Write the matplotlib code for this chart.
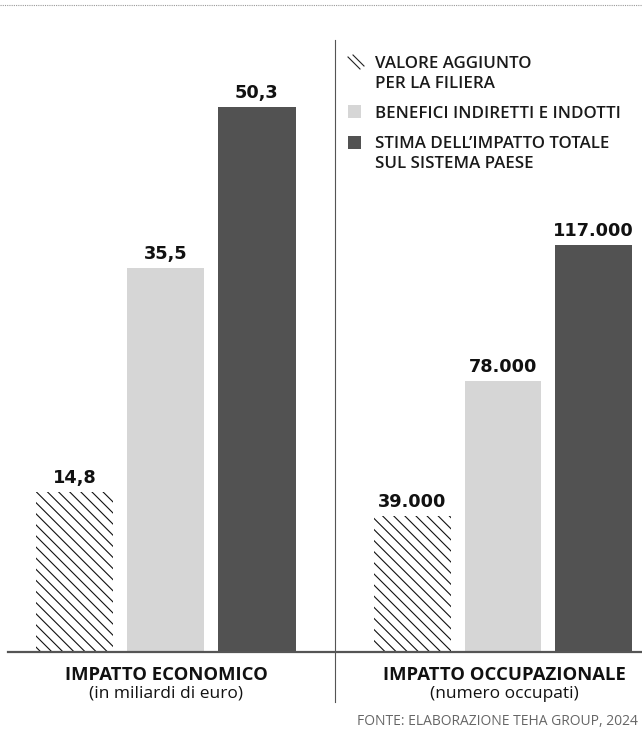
import matplotlib
matplotlib.use("Agg")
import matplotlib.pyplot as plt
from matplotlib.patches import Rectangle
from matplotlib.lines import Line2D

# ---- data ----
series = [["VALORE AGGIUNTO", "PER LA FILIERA"],
          ["BENEFICI INDIRETTI E INDOTTI"],
          ["STIMA DELL\u2019IMPATTO TOTALE", "SUL SISTEMA PAESE"]]
econ_values = [14.8, 35.5, 50.3]
econ_labels = ["14,8", "35,5", "50,3"]
occ_values = [39000, 78000, 117000]
occ_labels = ["39.000", "78.000", "117.000"]
panel_titles = ["IMPATTO ECONOMICO", "IMPATTO OCCUPAZIONALE"]
panel_subtitles = ["(in miliardi di euro)", "(numero occupati)"]
source = "FONTE: ELABORAZIONE TEHA GROUP, 2024"

FONT = "Open Sans"
plt.rcParams['font.family'] = [FONT, 'DejaVu Sans']
plt.rcParams['hatch.linewidth'] = 0.8

W, H = 642, 729
fig = plt.figure(figsize=(W / 100, H / 100), dpi=100)

def fx(x):
    return x / W

def fy(y):
    return 1 - y / H

LIGHT = "#d6d6d6"
DARK = "#525252"
styles = [
    dict(facecolor="white", edgecolor="#111111", hatch="\\\\\\", linewidth=0),
    dict(facecolor=LIGHT, edgecolor=LIGHT, linewidth=0),
    dict(facecolor=DARK, edgecolor=DARK, linewidth=0),
]

base_y = 652
top_y = 40

def make_panel(x0, x1, values, labels, xlim, ymax):
    ax = fig.add_axes([fx(x0), fy(base_y), fx(x1) - fx(x0), (base_y - top_y) / H])
    for i, (v, lab) in enumerate(zip(values, labels)):
        ax.bar(i, v, width=0.85, **styles[i])
        ax.annotate(lab, (i, v), xytext=(0, 6.5), textcoords="offset points",
                    ha="center", va="baseline", fontsize=12.8, fontweight="bold",
                    family="DejaVu Sans", color="#111111")
    ax.set_xlim(*xlim)
    ax.set_ylim(0, ymax)
    ax.axis("off")
    return ax

ax1 = make_panel(8, 334, econ_values, econ_labels, (-0.73, 2.846), 612 / 10.83)
ax2 = make_panel(334, 642, occ_values, occ_labels, (-0.867, 2.536), 612 / 0.003479)

# baseline, divider, top dotted rule
fig.add_artist(Line2D([fx(8), fx(642)], [fy(652), fy(652)], color="#555555", lw=1.6))
fig.add_artist(Line2D([fx(335), fx(335)], [fy(40), fy(702)], color="#555555", lw=0.8))
fig.add_artist(Line2D([0, 1], [fy(5), fy(5)], color="#999999", lw=0.8, ls=(0, (1, 1))))

# legend (manual)
fig.add_artist(Line2D([fx(348), fx(360)], [fy(57), fy(69)], color="#222222", lw=0.8))
fig.add_artist(Line2D([fx(353), fx(364)], [fy(55), fy(66)], color="#222222", lw=0.8))
fig.add_artist(Rectangle((fx(348), fy(118)), fx(13), 13 / H, facecolor=LIGHT,
                         edgecolor="none", transform=fig.transFigure))
fig.add_artist(Rectangle((fx(348), fy(149)), fx(13), 13 / H, facecolor=DARK,
                         edgecolor="none", transform=fig.transFigure))
leg_baselines = [[68, 88], [118], [148, 168]]
for lines, ys in zip(series, leg_baselines):
    for txt, y in zip(lines, ys):
        fig.text(fx(375), fy(y), txt, ha="left", va="baseline", fontsize=12.2,
                 fontweight="semibold", color="#1a1a1a")

# panel titles
for cx, t, s in zip([166, 504], panel_titles, panel_subtitles):
    fig.text(fx(cx), fy(680), t, ha="center", va="baseline", fontsize=13.3,
             fontweight="bold", color="#111111")
    fig.text(fx(cx), fy(698), s, ha="center", va="baseline", fontsize=12.5,
             color="#111111")

fig.text(fx(638), fy(725), source, ha="right", va="baseline", fontsize=10,
         color="#666666")

fig.savefig("out.png", dpi=100)
